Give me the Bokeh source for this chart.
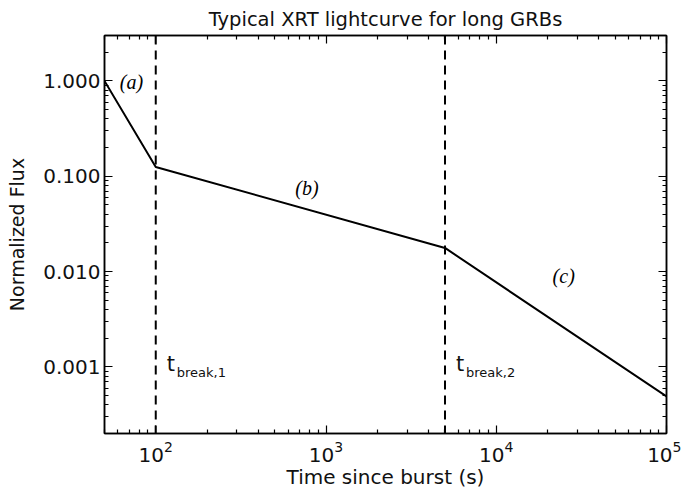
from bokeh.plotting import figure
from bokeh.models import (Range1d, LogAxis, FixedTicker, NumeralTickFormatter,
                          LogTickFormatter, Span, Label)
from bokeh.embed import file_html
from bokeh.resources import INLINE

# ---- data ----
time_s = [50, 100, 5000, 100000]
flux = [1.0, 0.125, 0.0177, 0.00049]
t_breaks = [100, 5000]
break_names = ["break,1", "break,2"]
segment_names = ["(a)", "(b)", "(c)"]
segment_label_x = [72, 773, 24900]
segment_label_y = [0.97, 0.075, 0.009]
x_major = [100, 1000, 10000, 100000]
y_major = [0.001, 0.01, 0.1, 1.0]

FONT = "DejaVu Sans"
TXT = "#111111"

x_minor = [m * 10 ** e for e in range(1, 5) for m in range(2, 10) if 50 <= m * 10 ** e <= 1e5]
y_minor = [m * 10 ** e for e in range(-4, 1) for m in range(2, 10) if 2e-4 <= m * 10 ** e <= 3]

p = figure(width=681, height=491, x_axis_type="log", y_axis_type="log",
           x_range=Range1d(50, 1e5), y_range=Range1d(2e-4, 3),
           output_backend="svg", toolbar_location=None,
           title="Typical XRT lightcurve for long GRBs",
           min_border_left=104, min_border_right=15, min_border_top=35, min_border_bottom=58)

p.title.align = "center"
p.title.text_font = FONT
p.title.text_font_size = "19.5px"
p.title.text_font_style = "normal"
p.title.text_color = TXT
p.title.standoff = 10
p.title.offset = 0

p.grid.visible = False
p.outline_line_color = "black"
p.outline_line_width = 1.5
p.background_fill_color = "white"
p.border_fill_color = "white"

xt = FixedTicker(ticks=x_major, minor_ticks=x_minor)
yt = FixedTicker(ticks=y_major, minor_ticks=y_minor)

def style_axis(ax, show_labels=True):
    ax.major_tick_in = 8
    ax.major_tick_out = 0
    ax.minor_tick_in = 4
    ax.minor_tick_out = 0
    ax.major_tick_line_color = "black"
    ax.minor_tick_line_color = "black"
    ax.major_tick_line_width = 1.2
    ax.minor_tick_line_width = 1.2
    ax.axis_line_color = "black"
    ax.axis_line_width = 1.5
    ax.major_label_text_font = FONT
    ax.major_label_text_font_size = "20px" if show_labels else "1px"
    ax.major_label_text_color = TXT if show_labels else None
    ax.axis_label_text_font = FONT
    ax.axis_label_text_font_size = "19px"
    ax.axis_label_text_font_style = "normal"
    ax.axis_label_text_color = TXT

xa = p.xaxis[0]
xa.ticker = xt
xa.formatter = LogTickFormatter()
style_axis(xa)
xa.major_label_standoff = 7
xa.axis_label = "Time since burst (s)"
xa.axis_label_text_font_size = "20px"
xa.axis_label_standoff = 0

ya = p.yaxis[0]
ya.ticker = yt
ya.formatter = NumeralTickFormatter(format="0.000")
style_axis(ya)
ya.major_label_standoff = 4
ya.axis_label = "Normalized Flux"
ya.axis_label_standoff = 12

top = LogAxis(ticker=xt, major_label_standoff=0)
style_axis(top, show_labels=False)
p.add_layout(top, "above")
right = LogAxis(ticker=yt, major_label_standoff=0)
style_axis(right, show_labels=False)
p.add_layout(right, "right")

# light curve
p.line(time_s, flux, line_color="black", line_width=2)

# break lines and labels
for tb, name in zip(t_breaks, break_names):
    p.add_layout(Span(location=tb, dimension="height", line_color="black",
                      line_width=2, line_dash="9 6"))
    p.add_layout(Label(x=tb, y=1.06e-3, x_offset=11, text="t", text_font=FONT,
                       text_font_size="21px", text_color=TXT, text_baseline="alphabetic"))
    p.add_layout(Label(x=tb, y=8.8e-4, x_offset=21, text=name, text_font=FONT,
                       text_font_size="13px", text_color=TXT, text_baseline="alphabetic"))

for sx, sy, s in zip(segment_label_x, segment_label_y, segment_names):
    p.add_layout(Label(x=sx, y=sy, text=s, text_font="Liberation Serif",
                       text_font_style="italic", text_font_size="20px", text_color="black",
                       text_align="center", text_baseline="middle"))

open("out.html", "w").write(file_html(p, INLINE))
